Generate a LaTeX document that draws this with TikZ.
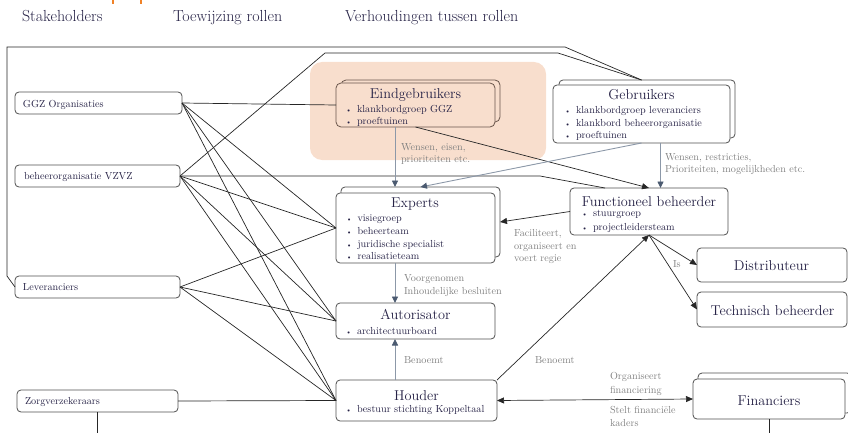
\documentclass[tikz,border=0pt]{standalone}
\usetikzlibrary{arrows.meta}
\definecolor{ink}{RGB}{38,34,70}
\definecolor{lblc}{RGB}{128,128,128}
\definecolor{peach}{RGB}{248,222,205}
\definecolor{bord}{RGB}{80,80,80}
\definecolor{ebord}{RGB}{105,85,75}
\definecolor{slate}{RGB}{75,90,112}
\definecolor{slatel}{RGB}{140,152,168}
\definecolor{orng}{RGB}{240,130,40}
\newcommand{\myb}[1]{\makebox[11.5pt][l]{\fontsize{7}{7}\selectfont\textbullet}#1}
\newcommand{\mylist}[1]{\begin{tabular}[t]{@{}l@{}}#1\end{tabular}}
\begin{document}
\begin{tikzpicture}[x=1pt,y=-1pt,
  every node/.style={inner sep=0pt, outer sep=0pt},
  sbox/.style={draw=bord, line width=0.8pt, rounded corners=4pt, fill=white},
  ebox/.style={draw=ebord, line width=0.8pt, rounded corners=5pt, fill=peach},
  conn/.style={draw=black!85, line width=0.7pt},
  garr/.style={draw=slatel, line width=0.9pt, -{Triangle[width=6pt,length=6.5pt,color=slate]}},
  barr/.style={draw=black!85, line width=0.7pt, -{Triangle[width=6pt,length=7pt]}},
  ttl/.style={text=ink, font=\fontsize{14.3}{16}\selectfont, anchor=base},
  hd/.style={text=ink, font=\fontsize{16}{18}\selectfont, anchor=base west},
  stk/.style={text=ink, font=\fontsize{10.2}{12}\selectfont, anchor=base west},
  lst/.style={text=ink, anchor=base west},
  lbl/.style={text=lblc, anchor=base west},
]
\useasboundingbox (0,0) rectangle (848,433);
\fill[peach, rounded corners=12pt] (310,62) rectangle (546,160);
\draw[orng, line width=2.3pt] (113,0) -- (113,4.5);
\draw[orng, line width=2.3pt] (141.3,0) -- (141.3,4.5);

% headings
\node[hd] (h1) at (22,21.7) {Stakeholders};
\node[hd] (h2) at (173,21.7) {Toewijzing rollen};
\node[hd] (h3) at (345,21.7) {Verhoudingen tussen rollen};

% stakeholders
\node[sbox, minimum width=167pt, minimum height=22pt] (ggz) at (98.5,103) {};
\node[stk] (ggzt) at (23,107.3) {GGZ Organisaties};
\node[sbox, minimum width=165pt, minimum height=22pt] (vzvz) at (97.5,176) {};
\node[stk] (vzvzt) at (24,179.8) {beheerorganisatie VZVZ};
\node[sbox, minimum width=165pt, minimum height=22pt] (lev) at (97.5,287) {};
\node[stk] (levt) at (23,290.3) {Leveranciers};
\node[sbox, minimum width=161pt, minimum height=22pt] (zorg) at (97.5,401) {};
\node[stk] (zorgt) at (25,404.5) {Zorgverzekeraars};

% Eindgebruikers
\node[ebox, minimum width=159pt, minimum height=42pt] (eindB) at (420.5,101) {};
\node[ebox, minimum width=159pt, minimum height=44pt] (eind) at (415.5,105) {};
\node[ttl] (eindt) at (415.5,98.3) {Eindgebruikers};
\node[lst, font=\fontsize{10.2}{11.5}\selectfont] (eindl) at (345.5,112.7) {\mylist{\myb{klankbordgroep GGZ}\\\myb{proeftuinen}}};

% Gebruikers
\node[sbox, minimum width=176pt, minimum height=58pt] (gebB) at (647,109) {};
\node[sbox, minimum width=177pt, minimum height=58pt] (geb) at (641.5,114) {};
\node[ttl] (gebt) at (641.5,99.3) {Gebruikers};
\node[lst, font=\fontsize{10.2}{12.7}\selectfont] (gebl) at (564.5,113.3) {\mylist{\myb{klankbordgroep leveranciers}\\\myb{klankbord beheerorganisatie}\\\myb{proeftuinen}}};

% Experts
\node[sbox, minimum width=159pt, minimum height=70pt] (expB) at (420.5,222) {};
\node[sbox, minimum width=159pt, minimum height=70pt] (exp) at (415.5,228) {};
\node[ttl] (expt) at (415,207.3) {Experts};
\node[lst, font=\fontsize{10.2}{12.7}\selectfont] (expl) at (346,221.7) {\mylist{\myb{visiegroep}\\\myb{beheerteam}\\\myb{juridische specialist}\\\myb{realisatieteam}}};

% Autorisator
\node[sbox, minimum width=159pt, minimum height=36pt] (aut) at (415.5,321) {};
\node[ttl] (autt) at (415.5,319.3) {Autorisator};
\node[lst, font=\fontsize{10.2}{12.7}\selectfont] (autl) at (345.5,334.3) {\mylist{\myb{architectuurboard}}};

% Houder
\node[sbox, minimum width=161pt, minimum height=41pt] (hou) at (416.5,400.5) {};
\node[ttl] (hout) at (416.5,400) {Houder};
\node[lst, font=\fontsize{10.2}{12.7}\selectfont] (houl) at (345.5,412.7) {\mylist{\myb{bestuur stichting Koppeltaal}}};

% Functioneel beheerder
\node[sbox, minimum width=158pt, minimum height=47pt] (fb) at (649,211.5) {};
\node[ttl] (fbt) at (649,206) {Functioneel beheerder};
\node[lst, font=\fontsize{10.2}{13.3}\selectfont] (fbl) at (581.5,216.7) {\mylist{\myb{stuurgroep}\\\myb{projectleidersteam}}};

% Distributeur / Technisch beheerder
\node[sbox, minimum width=150pt, minimum height=34pt] (dist) at (772,265) {};
\node[ttl] (distt) at (771.5,270.7) {Distributeur};
\node[sbox, minimum width=150pt, minimum height=35pt] (tech) at (772,309.5) {};
\node[ttl] (techt) at (772.5,315) {Technisch beheerder};

% Financiers
\node[sbox, minimum width=153pt, minimum height=40pt] (finB) at (774.5,393) {};
\node[sbox, minimum width=152pt, minimum height=40pt] (fin) at (769,399) {};
\node[ttl] (fint) at (769,405) {Financiers};

% labels
\node[lbl, font=\fontsize{10.2}{12.3}\selectfont] (l1) at (401,150) {\mylist{Wensen, eisen,\\prioriteiten etc.}};
\node[lbl, font=\fontsize{10.2}{12.7}\selectfont] (l2) at (665,160) {\mylist{Wensen, restricties,\\Prioriteiten, mogelijkheden etc.}};
\node[lbl, font=\fontsize{10.2}{12.5}\selectfont] (l3) at (514,236.7) {\mylist{Faciliteert,\\organiseert en\\voert regie}};
\node[lbl, font=\fontsize{10.2}{12.3}\selectfont] (l4) at (404,281.7) {\mylist{Voorgenomen\\Inhoudelijke besluiten}};
\node[lbl, font=\fontsize{10.2}{12.3}\selectfont] (l5) at (404,363.3) {Benoemt};
\node[lbl, font=\fontsize{10.2}{12.3}\selectfont] (l6) at (535,363.3) {Benoemt};
\node[lbl, font=\fontsize{10.2}{12.3}\selectfont] (l7) at (673,267.3) {Is};
\node[lbl, font=\fontsize{10.2}{14}\selectfont] (l8) at (610,379) {\mylist{Organiseert\\financiering}};
\node[lbl, font=\fontsize{10.2}{12.7}\selectfont] (l9) at (610,413.3) {\mylist{Stelt financiële\\kaders}};

% coordinates
\coordinate (ax1) at (395,0);
\coordinate (ax2) at (660.5,0);
\coordinate (f1) at (7,276);
\coordinate (f2) at (7,47);
\coordinate (f3) at (565,47);
\coordinate (v1) at (325,53);
\coordinate (v2) at (558,53);
\coordinate (v3) at (540,176);
\coordinate (v4) at (605,188);
\coordinate (gtop) at (gebB.north -| geb.north);
\coordinate (zb) at (97.5,433);
\coordinate (fbot) at (769,433);

% stakeholder connectors
\draw[conn] (lev.west) -- (f1) -- (f2) -- (f3) -- (gtop);
\draw[conn] (vzvz.east) -- (v1) -- (v2) -- (gtop);
\foreach \s in {ggz,vzvz,lev}{\foreach \t in {exp,aut,hou}{\draw[conn] (\s.east) -- (\t.west);}}
\draw[conn] (ggz.east) -- (eind.west);
\draw[conn] (zorg.east) -- (hou.west);
\draw[conn] (vzvz.east) -- (v3) -- (v4);
\draw[conn] (zorg.south) -- (zb);
\draw[conn] (fin.south) -- (fbot);

% black arrows
\draw[barr] (eind.south) -- (fb.north);
\draw[barr] (fb.west) -- (expB.east);
\draw[barr] (hou.north east) -- (fb.south);
\draw[barr] (fb.south) -- (dist.west);
\draw[barr] (fb.south) -- (tech.west);
\draw[barr, {Triangle[width=6pt,length=7pt]}-{Triangle[width=6pt,length=7pt]}] (hou.east) -- (fin.west);

% gray arrows
\draw[garr] (ax1 |- eind.south) -- (ax1 |- expB.north);
\draw[garr] (ax2 |- geb.south) -- (ax2 |- fb.north);
\draw[garr] (geb.south) -- (expB.north);
\draw[garr] (ax1 |- exp.south) -- (ax1 |- aut.north);
\draw[garr] (ax1 |- hou.north) -- (ax1 |- aut.south);
\end{tikzpicture}
\end{document}
